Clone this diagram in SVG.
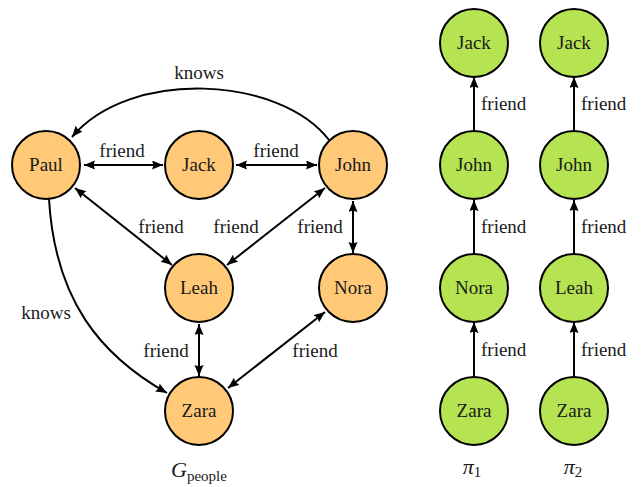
<svg xmlns="http://www.w3.org/2000/svg" width="641" height="487" viewBox="0 0 641 487">
<defs>
<marker id="ah" markerUnits="userSpaceOnUse" markerWidth="12" markerHeight="10" refX="11" refY="4.5" orient="auto-start-reverse">
<path d="M0,0 L11,4.5 L0,9 L1.5,4.5 z" fill="#000"/>
</marker>
<style>
.o circle{fill:#FFC978;stroke:#000;stroke-width:2}
.g circle{fill:#B6E352;stroke:#000;stroke-width:2}
text{font-family:"Liberation Serif","Times New Roman",serif !important}
.e path,.e line{stroke:#000;stroke-width:2;fill:none}
.d{marker-start:url(#ah);marker-end:url(#ah)}
.s{marker-end:url(#ah)}
</style>
</defs>
<g id="edges" class="e">
<line class="d" x1="84" y1="165" x2="163" y2="165"/>
<line class="d" x1="236" y1="165" x2="317" y2="165"/>
<path class="s" d="M329,140 C280,76 130,68 72,137"/>
<line class="d" x1="75" y1="188" x2="172" y2="265"/>
<line class="d" x1="325" y1="188" x2="227" y2="265"/>
<line class="d" x1="353" y1="201" x2="353" y2="253"/>
<path class="s" d="M49,199 C55,300 100,355 167,393"/>
<line class="d" x1="199" y1="324" x2="199" y2="376"/>
<line class="d" x1="325" y1="312" x2="228" y2="388"/>
<line class="s" x1="474" y1="131" x2="474" y2="77"/>
<line class="s" x1="474" y1="254" x2="474" y2="200"/>
<line class="s" x1="474" y1="377" x2="474" y2="322"/>
<line class="s" x1="574" y1="131" x2="574" y2="77"/>
<line class="s" x1="574" y1="254" x2="574" y2="200"/>
<line class="s" x1="574" y1="377" x2="574" y2="322"/>
</g>
<g id="edge-labels" font-family="Liberation Serif" font-size="19" fill="#1a1a1a">
<text x="122" y="157" text-anchor="middle" style="font-family:'Liberation Serif',serif !important">friend</text>
<text x="276" y="157" text-anchor="middle" style="font-family:'Liberation Serif',serif !important">friend</text>
<text x="199" y="79" text-anchor="middle" style="font-family:'Liberation Serif',serif !important">knows</text>
<text x="161" y="233" text-anchor="middle" style="font-family:'Liberation Serif',serif !important">friend</text>
<text x="236" y="233" text-anchor="middle" style="font-family:'Liberation Serif',serif !important">friend</text>
<text x="320" y="233" text-anchor="middle" style="font-family:'Liberation Serif',serif !important">friend</text>
<text x="46" y="319" text-anchor="middle" style="font-family:'Liberation Serif',serif !important">knows</text>
<text x="166" y="357" text-anchor="middle" style="font-family:'Liberation Serif',serif !important">friend</text>
<text x="315" y="357" text-anchor="middle" style="font-family:'Liberation Serif',serif !important">friend</text>
<text x="481" y="110" style="font-family:'Liberation Serif',serif !important">friend</text>
<text x="481" y="233" style="font-family:'Liberation Serif',serif !important">friend</text>
<text x="481" y="356" style="font-family:'Liberation Serif',serif !important">friend</text>
<text x="581" y="110" style="font-family:'Liberation Serif',serif !important">friend</text>
<text x="581" y="233" style="font-family:'Liberation Serif',serif !important">friend</text>
<text x="581" y="356" style="font-family:'Liberation Serif',serif !important">friend</text>
</g>
<g font-family="Liberation Serif" font-size="19" fill="#1a1a1a" text-anchor="middle">
<g id="paul" class="o"><circle cx="46" cy="165" r="34"/><text x="46" y="171" style="font-family:'Liberation Serif',serif !important">Paul</text></g>
<g id="jack" class="o"><circle cx="199" cy="165" r="34"/><text x="199" y="171" style="font-family:'Liberation Serif',serif !important">Jack</text></g>
<g id="john" class="o"><circle cx="353" cy="165" r="34"/><text x="353" y="171" style="font-family:'Liberation Serif',serif !important">John</text></g>
<g id="leah" class="o"><circle cx="199" cy="288" r="34"/><text x="199" y="294" style="font-family:'Liberation Serif',serif !important">Leah</text></g>
<g id="nora" class="o"><circle cx="353" cy="288" r="34"/><text x="353" y="294" style="font-family:'Liberation Serif',serif !important">Nora</text></g>
<g id="zara" class="o"><circle cx="199" cy="411" r="34"/><text x="199" y="417" style="font-family:'Liberation Serif',serif !important">Zara</text></g>
<g id="p1-jack" class="g"><circle cx="474" cy="43" r="34"/><text x="474" y="49" style="font-family:'Liberation Serif',serif !important">Jack</text></g>
<g id="p1-john" class="g"><circle cx="474" cy="165" r="34"/><text x="474" y="171" style="font-family:'Liberation Serif',serif !important">John</text></g>
<g id="p1-nora" class="g"><circle cx="474" cy="288" r="34"/><text x="474" y="294" style="font-family:'Liberation Serif',serif !important">Nora</text></g>
<g id="p1-zara" class="g"><circle cx="474" cy="411" r="34"/><text x="474" y="417" style="font-family:'Liberation Serif',serif !important">Zara</text></g>
<g id="p2-jack" class="g"><circle cx="574" cy="43" r="34"/><text x="574" y="49" style="font-family:'Liberation Serif',serif !important">Jack</text></g>
<g id="p2-john" class="g"><circle cx="574" cy="165" r="34"/><text x="574" y="171" style="font-family:'Liberation Serif',serif !important">John</text></g>
<g id="p2-leah" class="g"><circle cx="574" cy="288" r="34"/><text x="574" y="294" style="font-family:'Liberation Serif',serif !important">Leah</text></g>
<g id="p2-zara" class="g"><circle cx="574" cy="411" r="34"/><text x="574" y="417" style="font-family:'Liberation Serif',serif !important">Zara</text></g>
</g>
<g id="captions" font-family="Liberation Serif" fill="#1a1a1a" text-anchor="middle">
<text x="199" y="477" style="font-family:'Liberation Serif',serif !important"><tspan font-style="italic" font-size="22">G</tspan><tspan font-size="15" dy="4">people</tspan></text>
<text x="472" y="474" style="font-family:'Liberation Serif',serif !important"><tspan font-style="italic" font-size="22">π</tspan><tspan font-size="15" dy="3">1</tspan></text>
<text x="573" y="474" style="font-family:'Liberation Serif',serif !important"><tspan font-style="italic" font-size="22">π</tspan><tspan font-size="15" dy="3">2</tspan></text>
</g>
</svg>
